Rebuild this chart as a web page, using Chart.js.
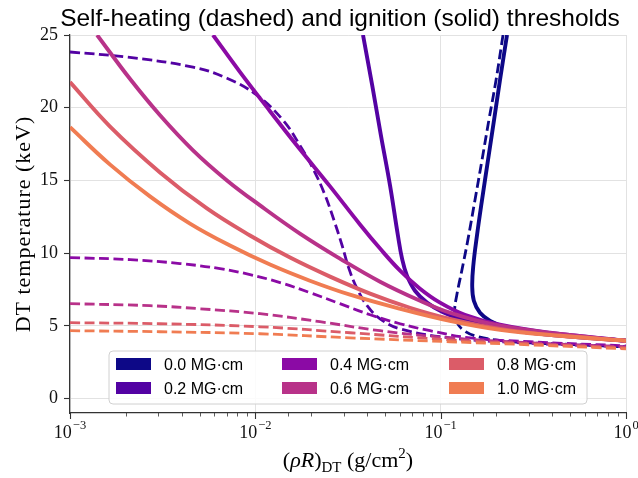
<!DOCTYPE html>
<html>
<head>
<meta charset="utf-8">
<script src="https://cdn.jsdelivr.net/npm/chart.js@4/dist/chart.umd.min.js"></script>
<style>
  html, body { margin: 0; padding: 0; background: #ffffff; }
  canvas { display: block; }
</style>
</head>
<body>
<canvas id="chart" width="638" height="478"></canvas>
<script>
// Magnetic field strengths (areal, MG·cm) and their plasma-map colours
const fieldLabels = ['0.0 MG·cm', '0.2 MG·cm', '0.4 MG·cm', '0.6 MG·cm', '0.8 MG·cm', '1.0 MG·cm'];
const fieldColors = ['#0d0887', '#5302a3', '#8b0aa5', '#b83289', '#db5c68', '#f07c52'];

// Ignition thresholds (solid): [(rhoR)_DT in g/cm^2, T in keV]
const ignition00 = [[0.228,25.0],[0.209,21.90],[0.194,19.14],[0.180,16.38],[0.167,13.62],[0.157,11.21],[0.150,9.14],[0.148,7.76],[0.151,6.72],[0.163,5.90],[0.185,5.34],[0.222,4.93],[0.303,4.59],[0.499,4.31],[1.0,3.97]];
const ignition02 = [[0.0381,25.0],[0.0427,21.55],[0.0476,18.10],[0.0533,14.66],[0.0588,11.21],[0.0619,9.62],[0.0658,8.45],[0.0727,7.41],[0.0844,6.59],[0.1017,5.97],[0.127,5.48],[0.185,4.93],[0.344,4.45],[1.0,3.97]];
const ignition04 = [[0.00591,25.0],[0.00827,22.45],[0.0120,19.76],[0.0174,17.14],[0.0253,14.59],[0.0367,11.97],[0.0471,10.31],[0.0604,8.79],[0.0774,7.55],[0.0992,6.59],[0.135,5.76],[0.209,5.07],[0.389,4.52],[1.0,3.97]];
const ignition06 = [[0.0014,25.0],[0.00211,21.97],[0.00306,19.48],[0.00461,17.07],[0.00703,15.0],[0.0106,13.28],[0.0174,11.34],[0.0286,9.62],[0.0471,8.03],[0.0774,6.72],[0.112,5.90],[0.185,5.14],[0.344,4.59],[1.0,3.97]];
const ignition08 = [[0.001,21.76],[0.00164,18.72],[0.00306,15.55],[0.00548,13.07],[0.00936,11.21],[0.0154,9.69],[0.0253,8.38],[0.0416,7.21],[0.0683,6.24],[0.112,5.48],[0.209,4.79],[0.441,4.31],[1.0,3.97]];
const ignition10 = [[0.001,18.66],[0.00164,16.10],[0.0027,13.90],[0.00444,12.03],[0.0073,10.52],[0.0120,9.21],[0.0197,8.10],[0.0324,7.14],[0.0604,6.17],[0.112,5.34],[0.209,4.72],[0.441,4.31],[1.0,3.97]];

// Self-heating thresholds (dashed)
const selfHeat00 = [[0.217,25.0],[0.199,21.90],[0.182,19.14],[0.167,16.38],[0.153,13.62],[0.140,10.86],[0.130,8.79],[0.122,7.07],[0.119,6.03],[0.122,5.28],[0.132,4.72],[0.153,4.31],[0.196,4.03],[0.303,3.83],[0.565,3.69],[1.0,3.55]];
const selfHeat02 = [[0.001,23.83],[0.00203,23.48],[0.00461,22.79],[0.00703,22.03],[0.0102,20.86],[0.0141,19.14],[0.0174,17.41],[0.0207,15.69],[0.0238,13.97],[0.0266,12.24],[0.0294,10.52],[0.0320,8.93],[0.0354,7.55],[0.0401,6.38],[0.0471,5.48],[0.0604,4.79],[0.112,4.17],[0.268,3.83],[1.0,3.55]];
const selfHeat04 = [[0.001,9.69],[0.00211,9.55],[0.00392,9.28],[0.00645,8.93],[0.00936,8.52],[0.0136,7.97],[0.0197,7.28],[0.0286,6.52],[0.0416,5.76],[0.0604,5.14],[0.0876,4.66],[0.144,4.17],[0.303,3.90],[1.0,3.62]];
const selfHeat06 = [[0.001,6.52],[0.0027,6.38],[0.00503,6.17],[0.0106,5.83],[0.0223,5.28],[0.0471,4.66],[0.112,4.17],[0.303,3.83],[1.0,3.55]];
const selfHeat08 = [[0.001,5.21],[0.00306,5.14],[0.0106,4.93],[0.0324,4.52],[0.112,4.03],[0.303,3.76],[1.0,3.48]];
const selfHeat10 = [[0.001,4.66],[0.00306,4.59],[0.0106,4.45],[0.0324,4.17],[0.112,3.90],[0.303,3.69],[1.0,3.41]];

const ignitionCurves = [ignition00, ignition02, ignition04, ignition06, ignition08, ignition10];
const selfHeatCurves = [selfHeat00, selfHeat02, selfHeat04, selfHeat06, selfHeat08, selfHeat10];

// Axis ticks
const xMajorTicks = [1e-3, 1e-2, 1e-1, 1];
const yTickStep = 5;
const yRange = [-1, 25];

const titleText = 'Self-heating (dashed) and ignition (solid) thresholds';
const yTitleText = 'DT temperature (keV)';

const SERIF = '"Liberation Serif", "DejaVu Serif", serif';
const SANS = '"Liberation Sans", Arial, sans-serif';
const GRID = '#e2e2e2';
const SPINE = '#333333';

const toPoints = arr => arr.map(([x, y]) => ({ x, y }));
const isDecade = v => v > 0 && Math.abs(Math.log10(v) - Math.round(Math.log10(v))) < 1e-6;

const datasets = [];
let seq = 0;
fieldLabels.forEach((label, i) => {
  datasets.push({
    label: label + ' self-heating',
    data: toPoints(selfHeatCurves[i]),
    borderColor: fieldColors[i],
    borderWidth: 2.8,
    borderDash: [10, 4.5],
    order: 100 - (seq++)
  });
  datasets.push({
    label: label,
    data: toPoints(ignitionCurves[i]),
    borderColor: fieldColors[i],
    borderWidth: 3.9,
    order: 100 - (seq++)
  });
});

// Custom decorations: log-axis ticks with superscript labels, titles and legend
const decorations = {
  id: 'decorations',
  afterDraw(chart) {
    const { ctx, chartArea: a } = chart;
    const xs = chart.scales.x;
    ctx.save();

    // x tick marks (major and minor, outward)
    ctx.strokeStyle = SPINE;
    xs.ticks.forEach(t => {
      const major = isDecade(t.value);
      const px = Math.round(xs.getPixelForValue(t.value)) + 0.5;
      ctx.lineWidth = major ? 1.1 : 0.8;
      ctx.beginPath();
      ctx.moveTo(px, a.bottom);
      ctx.lineTo(px, a.bottom + (major ? 6 : 3.5));
      ctx.stroke();
    });

    // x tick labels: 10^n
    ctx.fillStyle = '#111';
    ctx.textBaseline = 'alphabetic';
    ctx.textAlign = 'left';
    xMajorTicks.forEach(v => {
      const n = Math.round(Math.log10(v));
      const base = '10';
      const exp = n < 0 ? '\u2212' + Math.abs(n) : String(n);
      ctx.font = '18px ' + SERIF;
      const wb = ctx.measureText(base).width;
      ctx.font = '12.5px ' + SERIF;
      const we = ctx.measureText(exp).width;
      const px = xs.getPixelForValue(v);
      const x0 = px - (wb + we + 1) / 2;
      ctx.font = '18px ' + SERIF;
      ctx.fillText(base, x0, 438);
      ctx.font = '12.5px ' + SERIF;
      ctx.fillText(exp, x0 + wb + 1, 429);
    });

    // x axis title: (rho R)_DT (g/cm^2)
    const parts = [
      { t: '(', f: '22px ' + SERIF, dy: 0 },
      { t: '\u03C1R', f: 'italic 22px ' + SERIF, dy: 0 },
      { t: ')', f: '22px ' + SERIF, dy: 0 },
      { t: 'DT', f: '15px ' + SERIF, dy: 5 },
      { t: ' (g/cm', f: '22px ' + SERIF, dy: 0 },
      { t: '2', f: '15px ' + SERIF, dy: -9 },
      { t: ')', f: '22px ' + SERIF, dy: 0 }
    ];
    let total = 0;
    parts.forEach(p => { ctx.font = p.f; p.w = ctx.measureText(p.t).width; total += p.w; });
    let cx = (a.left + a.right) / 2 - total / 2;
    ctx.fillStyle = '#000';
    parts.forEach(p => { ctx.font = p.f; ctx.fillText(p.t, cx, 467 + p.dy); cx += p.w; });

    // y axis title
    ctx.save();
    ctx.translate(30, (a.top + a.bottom) / 2);
    ctx.rotate(-Math.PI / 2);
    ctx.textAlign = 'center';
    ctx.font = '22px ' + SERIF;
    if ('letterSpacing' in ctx) ctx.letterSpacing = '1px';
    ctx.fillText(yTitleText, 0, 0);
    ctx.restore();

    // chart title
    ctx.textAlign = 'center';
    ctx.font = '24.5px ' + SANS;
    ctx.fillStyle = '#000';
    ctx.fillText(titleText, 340, 26);

    // legend box
    const lx = 109, ly = 351, lw = 478, lh = 53, r = 4;
    ctx.beginPath();
    ctx.moveTo(lx + r, ly);
    ctx.arcTo(lx + lw, ly, lx + lw, ly + lh, r);
    ctx.arcTo(lx + lw, ly + lh, lx, ly + lh, r);
    ctx.arcTo(lx, ly + lh, lx, ly, r);
    ctx.arcTo(lx, ly, lx + lw, ly, r);
    ctx.closePath();
    ctx.fillStyle = 'rgba(255,255,255,0.85)';
    ctx.fill();
    ctx.strokeStyle = '#d0d0d0';
    ctx.lineWidth = 1;
    ctx.stroke();

    const colX = [116, 282, 449];
    const rowY = [364, 388];
    ctx.textAlign = 'left';
    ctx.font = '16px ' + SANS;
    fieldLabels.forEach((label, i) => {
      const c = Math.floor(i / 2), rIdx = i % 2;
      ctx.fillStyle = fieldColors[i];
      ctx.fillRect(colX[c], rowY[rIdx] - 6, 35, 12);
      ctx.fillStyle = '#000';
      ctx.fillText(label, colX[c] + 48, rowY[rIdx] + 6);
    });

    ctx.restore();
  }
};

new Chart(document.getElementById('chart'), {
  type: 'scatter',
  data: { datasets },
  options: {
    responsive: false,
    animation: false,
    devicePixelRatio: 1,
    showLine: true,
    layout: { padding: { top: 35, right: 12, left: 0, bottom: 0 } },
    elements: {
      point: { radius: 0, hoverRadius: 0 },
      line: { tension: 0.4, fill: false, borderCapStyle: 'butt' }
    },
    plugins: {
      legend: { display: false },
      title: { display: false },
      tooltip: { enabled: false }
    },
    scales: {
      x: {
        type: 'logarithmic',
        min: xMajorTicks[0],
        max: xMajorTicks[xMajorTicks.length - 1],
        ticks: { display: false },
        grid: {
          color: c => (c.tick && isDecade(c.tick.value)) ? GRID : 'rgba(0,0,0,0)',
          lineWidth: 1,
          drawTicks: false
        },
        border: { display: true, color: SPINE, width: 1.25 },
        afterFit(s) { s.height = 65; }
      },
      y: {
        type: 'linear',
        min: yRange[0],
        max: yRange[1],
        ticks: {
          stepSize: yTickStep,
          includeBounds: false,
          color: '#111',
          padding: 6,
          font: { family: SERIF, size: 18 }
        },
        grid: {
          color: GRID,
          lineWidth: 1,
          drawTicks: true,
          tickLength: 6,
          tickColor: SPINE,
          tickWidth: 1.1
        },
        border: { display: true, color: SPINE, width: 1.25 },
        afterFit(s) { s.width = 70; }
      }
    }
  },
  plugins: [decorations]
});
</script>
</body>
</html>
